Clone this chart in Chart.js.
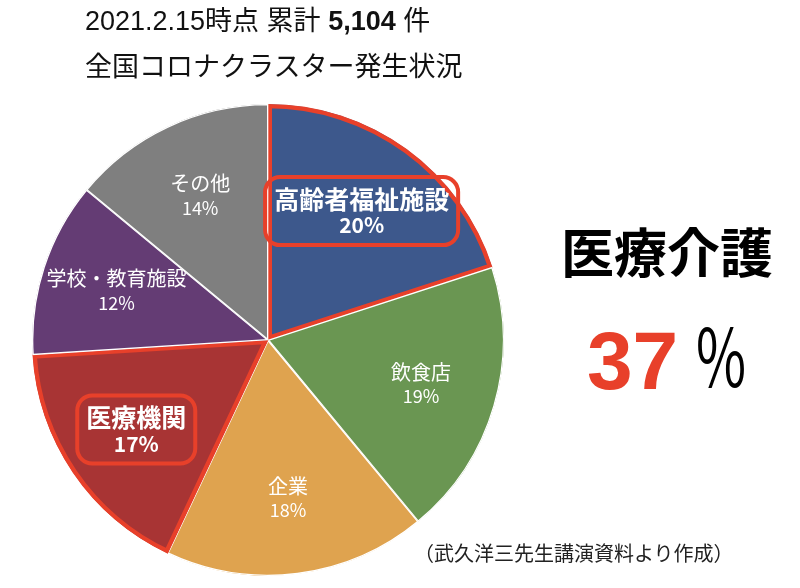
<!DOCTYPE html>
<html><head><meta charset="utf-8">
<script src="https://cdn.jsdelivr.net/npm/chart.js@4.4.1/dist/chart.umd.min.js"></script>
<style>
html,body{margin:0;padding:0;background:#fff;}
#wrap{position:relative;width:800px;height:588px;overflow:hidden;}
canvas{position:absolute;left:0;top:0;}
.t{position:absolute;white-space:nowrap;font-family:"Liberation Sans","Noto Sans CJK JP",sans-serif;color:#111;line-height:1;}
</style></head><body>
<div id="wrap">
<canvas id="c" width="800" height="588"></canvas>
<div class="t" style="left:85px;top:8px;font-size:27px;">2021.2.15時点 累計 <b>5,104</b> 件</div>
<div class="t" style="left:85px;top:54px;font-size:27px;">全国コロナクラスター発生状況</div>
<div class="t" style="left:561px;top:224px;font-size:53px;font-weight:bold;font-family:'Noto Sans CJK JP',sans-serif;color:#000;">医療介護</div>
<div class="t" style="left:587px;top:320px;font-size:82px;font-weight:bold;color:#e8402a;">37</div>
<div class="t" style="left:696px;top:312px;font-size:80px;color:#000;font-family:'Noto Sans CJK JP',sans-serif;transform:scaleX(0.68);transform-origin:left top;">%</div>
<div class="t" style="left:414px;top:543px;font-size:20px;font-family:'Noto Sans CJK JP',sans-serif;color:#222;">（武久洋三先生講演資料より作成）</div>
</div>
<script>
const categories = ['高齢者福祉施設','飲食店','企業','医療機関','学校・教育施設','その他'];
const shares = [20, 19, 18, 17, 12, 14];
const highlighted = [true, false, false, true, false, false];
const sliceColors = ['#3d588c','#6a9652','#dfa34f','#a83434','#643c74','#7f7f7f'];
const accent = '#e8402a';

const labelPlugin = {
  id: 'sliceLabels',
  afterDatasetsDraw(chart) {
    const ctx = chart.ctx;
    const meta = chart.getDatasetMeta(0);
    meta.data.forEach((arc, i) => {
      const p = arc.getProps(['x','y','startAngle','endAngle','outerRadius'], true);
      const mid = (p.startAngle + p.endAngle) / 2;
      const f = 0.675;
      const cx = p.x + Math.cos(mid) * p.outerRadius * f;
      const cy = p.y + Math.sin(mid) * p.outerRadius * f;
      ctx.save();
      ctx.textAlign = 'center';
      ctx.textBaseline = 'middle';
      ctx.fillStyle = '#fff';
      if (highlighted[i]) {
        ctx.font = 'bold 25px "Noto Sans CJK JP", sans-serif';
        const w = ctx.measureText(categories[i]).width;
        const bw = w + 18, bh = 68;
        ctx.beginPath();
        ctx.roundRect(cx - bw/2, cy - bh/2, bw, bh, 15);
        ctx.lineWidth = 4;
        ctx.strokeStyle = accent;
        ctx.stroke();
        ctx.fillText(categories[i], cx, cy - 12);
        ctx.font = 'bold 21px "Noto Sans CJK JP", sans-serif';
        ctx.fillText(shares[i] + '%', cx, cy + 14);
      } else {
        ctx.font = '20px "Noto Sans CJK JP", sans-serif';
        ctx.fillText(categories[i], cx, cy - 12);
        ctx.font = '18px "Noto Sans CJK JP", sans-serif';
        ctx.fillText(shares[i] + '%', cx, cy + 12);
      }
      ctx.restore();
    });
  }
};

new Chart(document.getElementById('c'), {
  type: 'pie',
  data: {
    labels: categories,
    datasets: [{
      data: shares,
      backgroundColor: sliceColors,
      borderColor: highlighted.map(h => h ? accent : '#ffffff'),
      borderWidth: highlighted.map(h => h ? 4 : 1),
      borderAlign: 'inner'
    }]
  },
  options: {
    responsive: false,
    animation: false,
    devicePixelRatio: 1,
    layout: { padding: { left: 32, right: 296, top: 104, bottom: 12 } },
    plugins: { legend: { display: false }, tooltip: { enabled: false } }
  },
  plugins: [labelPlugin]
});
</script>
</body></html>
